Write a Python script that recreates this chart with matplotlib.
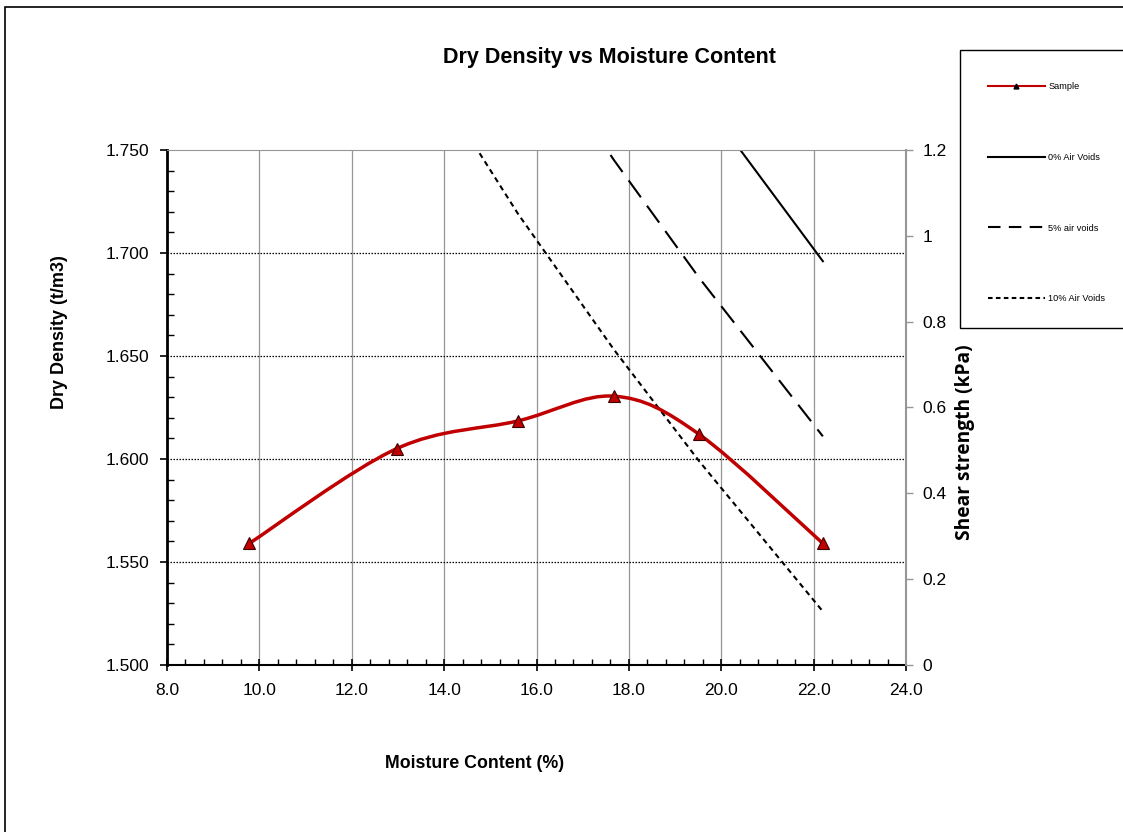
"""Dry density vs moisture content chart
"""
import matplotlib
matplotlib.use('Agg')
import matplotlib.pyplot as plt
from matplotlib.lines import Line2D
from matplotlib.patches import PathPatch, Rectangle
from matplotlib.path import Path
from matplotlib.ticker import FormatStrFormatter, MultipleLocator, FuncFormatter

plt.rcParams['font.family'] = ['Liberation Sans', 'DejaVu Sans']

# sample results
moisture = [9.78, 12.97, 15.6, 17.68, 19.52, 22.2]
dry_density = [1.559, 1.605, 1.6185, 1.6305, 1.612, 1.559]

# air voids lines (at the sample moistures)
void_moisture = [9.78, 12.97, 15.6, 17.68, 19.52, 22.2]
voids_0 = [2.148, 2.013, 1.910, 1.837, 1.777, 1.696]
voids_5 = [2.041, 1.912, 1.814, 1.745, 1.688, 1.611]
voids_10 = [1.933, 1.812, 1.719, 1.653, 1.599, 1.526]

x_ticks = [8.0, 10.0, 12.0, 14.0, 16.0, 18.0, 20.0, 22.0, 24.0]
y_ticks = [1.500, 1.550, 1.600, 1.650, 1.700, 1.750]
shear_ticks = [0, 0.2, 0.4, 0.6, 0.8, 1.0, 1.2]

RED = '#C00000'
W, H = 1123, 832


def smooth_path(xs, ys):
    """Bezier path through the points, like a spreadsheet smoothed line"""
    pts = list(zip(xs, ys))
    verts = [pts[0]]
    codes = [Path.MOVETO]
    for i in range(len(pts) - 1):
        p0 = pts[i - 1] if i > 0 else pts[i]
        p1 = pts[i]
        p2 = pts[i + 1]
        p3 = pts[i + 2] if i + 2 < len(pts) else pts[i + 1]
        c1 = (p1[0] + (p2[0] - p0[0]) / 6, p1[1] + (p2[1] - p0[1]) / 6)
        c2 = (p2[0] - (p3[0] - p1[0]) / 6, p2[1] - (p3[1] - p1[1]) / 6)
        verts += [c1, c2, p2]
        codes += [Path.CURVE4] * 3
    return Path(verts, codes)


fig = plt.figure(figsize=(W / 100, H / 100), dpi=100)
ax = fig.add_axes([167 / W, 1 - 665 / H, (906 - 167) / W, (665 - 150) / H])

# figure border
fig.patches.append(Rectangle((5 / W, -0.1), 1.2, 1 - 7 / H + 0.1, transform=fig.transFigure,
                             fill=False, edgecolor='black', linewidth=1.2))

ax.set_xlim(x_ticks[0], x_ticks[-1])
ax.set_ylim(y_ticks[0], y_ticks[-1])

for xv in x_ticks[1:-1]:
    ax.axvline(xv, color='#969696', linewidth=0.9, zorder=1)
for yv in y_ticks[1:-1]:
    ax.axhline(yv, color='black', linewidth=0.9, linestyle=(0, (1.2, 1.2)), zorder=1)

ax.plot(void_moisture, voids_0, color='black', linewidth=1.5, zorder=2)
ax.plot(void_moisture, voids_5, color='black', linewidth=1.5, linestyle=(0, (10, 5)), zorder=2)
ax.plot(void_moisture, voids_10, color='black', linewidth=1.5, linestyle=(0, (2.6, 2)), zorder=2)

ax.add_patch(PathPatch(smooth_path(moisture, dry_density), facecolor='none',
                       edgecolor=RED, linewidth=2.5, zorder=3))
ax.plot(moisture, dry_density, linestyle='none', marker='^', markersize=9,
        markerfacecolor=RED, markeredgecolor='#3a0000', markeredgewidth=0.8, zorder=4)

ax.xaxis.set_major_locator(MultipleLocator(2))
ax.xaxis.set_minor_locator(MultipleLocator(0.4))
ax.yaxis.set_major_locator(MultipleLocator(0.05))
ax.yaxis.set_minor_locator(MultipleLocator(0.01))
ax.xaxis.set_major_formatter(FormatStrFormatter('%.1f'))
ax.yaxis.set_major_formatter(FormatStrFormatter('%.3f'))
ax.tick_params(axis='x', which='major', direction='inout', length=8, width=1.2,
               labelsize=12.5, pad=9, colors='black')
ax.tick_params(axis='x', which='minor', direction='in', length=4, width=1)
ax.tick_params(axis='y', which='major', direction='out', length=5, width=1.2,
               labelsize=12.5, pad=8)
ax.tick_params(axis='y', which='minor', direction='in', length=5, width=1)

ax.spines['left'].set_linewidth(2)
ax.spines['bottom'].set_linewidth(1.5)
ax.spines['top'].set_color('#969696')
ax.spines['right'].set_visible(False)

# titles and axis labels placed as in the original sheet
fig.text(609 / W, 1 - 57 / H, 'Dry Density vs Moisture Content', fontsize=15.5,
         fontweight='bold', ha='center', va='center')
fig.text(475 / W, 1 - 764 / H, 'Moisture Content (%)', fontsize=12.8,
         fontweight='bold', ha='center', va='center')
fig.text(59 / W, 1 - 332 / H, 'Dry Density (t/m3)', fontsize=13,
         fontweight='bold', ha='center', va='center', rotation=90)

ax2 = ax.twinx()
ax2.set_ylim(shear_ticks[0], shear_ticks[-1])
ax2.set_yticks(shear_ticks)
ax2.yaxis.set_major_formatter(FuncFormatter(lambda v, p: f'{v:g}'))
ax2.tick_params(axis='y', direction='out', length=5, width=1, color='#969696',
                labelsize=12.5, pad=7)
for side in ['left', 'top', 'bottom']:
    ax2.spines[side].set_visible(False)
ax2.spines['right'].set_color('#969696')
ax2.spines['right'].set_linewidth(1.5)
fig.text(965 / W, 1 - 442 / H, 'Shear strength (kPa)', fontsize=13.8,
         fontweight='bold', family=['Open Sans', 'DejaVu Sans'],
         ha='center', va='center', rotation=90)

# legend box
fig.patches.append(Rectangle((960 / W, 1 - 328 / H), 0.2, (328 - 50) / H,
                             transform=fig.transFigure, fill=False,
                             edgecolor='black', linewidth=1))
handles = [
    Line2D([], [], color=RED, linewidth=1.5, marker='^', markersize=3.5,
           markerfacecolor='black', markeredgecolor='black', markevery=[1]),
    Line2D([], [], color='black', linewidth=1.5),
    Line2D([], [], color='black', linewidth=1.5, linestyle=(0, (6, 4))),
    Line2D([], [], color='black', linewidth=1.5, linestyle=(0, (2.2, 1.6))),
]
labels = ['Sample', '0% Air Voids', '5% air voids', '10% Air Voids']
fig.legend(handles, labels, loc='upper left', bbox_to_anchor=(988 / W, 1 - 82 / H),
           frameon=False, fontsize=6.6, handlelength=6.2, handletextpad=0.4,
           labelspacing=6.74, borderpad=0, borderaxespad=0)

fig.savefig('out.png', dpi=100)
